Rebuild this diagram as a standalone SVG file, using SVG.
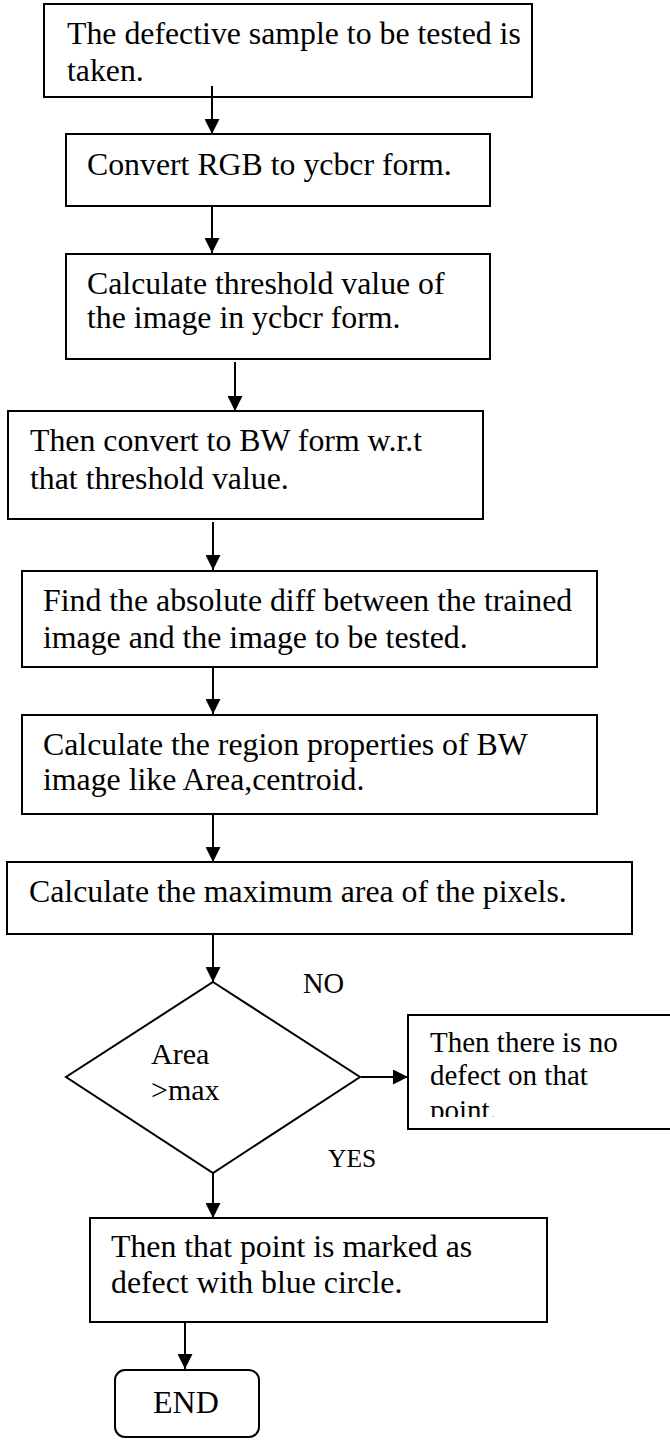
<svg xmlns="http://www.w3.org/2000/svg" width="670" height="1440" viewBox="0 0 670 1440">
<defs>
<marker id="ah" markerWidth="15" markerHeight="15" refX="15" refY="7.5" orient="auto" markerUnits="userSpaceOnUse"><path d="M0,0 L15,7.5 L0,15 z" fill="#000"/></marker>
<clipPath id="noclip"><rect x="408" y="1015" width="262" height="102"/></clipPath>
</defs>
<style>
.box{fill:#fff;stroke:#000;stroke-width:2}
.t{font-family:"Liberation Serif","Times New Roman",serif;font-size:31.8px;fill:#000}
.s{font-family:"Liberation Serif","Times New Roman",serif;fill:#000}
.c{stroke:#000;stroke-width:2;fill:none}
</style>
<rect width="670" height="1440" fill="#fff"/>
<g id="n1"><rect class="box" x="44" y="4" width="488" height="93"/><text class="t" x="67" y="44">The defective sample to be tested is</text><text class="t" x="67" y="81">taken.</text></g>
<g id="n2"><rect class="box" x="66" y="134" width="424" height="72"/><text class="t" x="87" y="175">Convert RGB to ycbcr form.</text></g>
<g id="n3"><rect class="box" x="66" y="254" width="424" height="105"/><text class="t" x="87" y="294">Calculate threshold value of</text><text class="t" x="87" y="328">the image in ycbcr form.</text></g>
<g id="n4"><rect class="box" x="8" y="411" width="475" height="108"/><text class="t" x="30" y="451">Then convert to BW form w.r.t</text><text class="t" x="30" y="489">that threshold value.</text></g>
<g id="n5"><rect class="box" x="22" y="571" width="575" height="96"/><text class="t" x="43" y="611">Find the absolute diff between the trained</text><text class="t" x="43" y="648">image and the image to be tested.</text></g>
<g id="n6"><rect class="box" x="22" y="715" width="575" height="99"/><text class="t" x="43" y="755">Calculate the region properties of BW</text><text class="t" x="43" y="790">image like Area,centroid.</text></g>
<g id="n7"><rect class="box" x="7" y="862" width="625" height="72"/><text class="t" x="29" y="902">Calculate the maximum area of the pixels.</text></g>
<g id="dec"><polygon class="box" points="213,982 360,1077 213,1173 66,1077"/><text class="s" font-size="30" x="151" y="1064">Area</text><text class="s" font-size="30" x="151" y="1100">&gt;max</text></g>
<g id="lblNO"><text class="s" font-size="28.5" x="303" y="993">NO</text></g>
<g id="lblYES"><text class="s" font-size="25.5" x="328" y="1167">YES</text></g>
<g id="nobox"><rect class="box" x="408" y="1015" width="280" height="114"/><g clip-path="url(#noclip)"><text class="s" font-size="29" x="430" y="1052">Then there is no</text><text class="s" font-size="29" x="430" y="1085">defect on that</text><text class="s" font-size="29" x="430" y="1120">point.</text></g></g>
<g id="n8"><rect class="box" x="90" y="1218" width="457" height="104"/><text class="t" x="111" y="1257">Then that point is marked as</text><text class="t" x="111" y="1293">defect with blue circle.</text></g>
<g id="end"><rect class="box" x="115" y="1370" width="144" height="67" rx="10"/><text class="s" font-size="32" x="153" y="1413">END</text></g>
<g id="connectors">
<path class="c" d="M212,86 V134" marker-end="url(#ah)"/>
<path class="c" d="M212,206 V253" marker-end="url(#ah)"/>
<path class="c" d="M235,362 V411" marker-end="url(#ah)"/>
<path class="c" d="M213,522 V570" marker-end="url(#ah)"/>
<path class="c" d="M213,667 V714" marker-end="url(#ah)"/>
<path class="c" d="M213,814 V862" marker-end="url(#ah)"/>
<path class="c" d="M213,934 V982" marker-end="url(#ah)"/>
<path class="c" d="M361,1077 H408" marker-end="url(#ah)"/>
<path class="c" d="M213,1173 V1218" marker-end="url(#ah)"/>
<path class="c" d="M185,1322 V1369" marker-end="url(#ah)"/>
</g>
</svg>
